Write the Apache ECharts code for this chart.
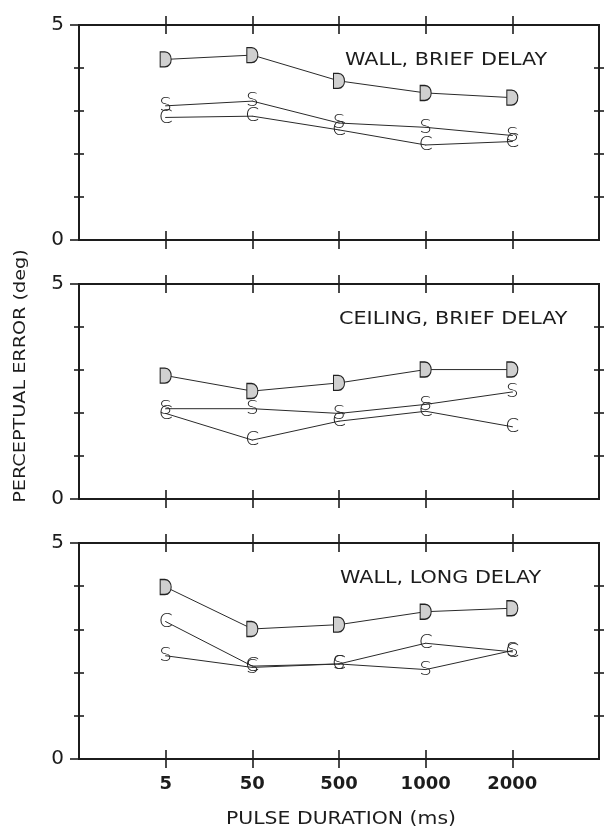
<!DOCTYPE html>
<html>
<head>
<meta charset="utf-8">
<script src="https://cdn.jsdelivr.net/npm/echarts@6/dist/echarts.min.js"></script>
<style>
html,body{margin:0;padding:0;background:#fff;}
#c{width:604px;height:830px;}
</style>
</head>
<body>
<div id="c"></div>
<script>
// ---- data ----
const categories = ['5', '50', '500', '1000', '2000'];
const yTickLabels = [0, 5];
const panelTitles = ['WALL, BRIEF DELAY', 'CEILING, BRIEF DELAY', 'WALL, LONG DELAY'];
const xTitle = 'PULSE DURATION (ms)';
const yTitle = 'PERCEPTUAL ERROR (deg)';

const wallBriefD = [4.20, 4.30, 3.70, 3.42, 3.31];
const wallBriefS = [3.12, 3.23, 2.72, 2.62, 2.43];
const wallBriefC = [2.85, 2.88, 2.56, 2.21, 2.29];

const ceilBriefD = [2.87, 2.51, 2.70, 3.01, 3.01];
const ceilBriefS = [2.10, 2.10, 1.99, 2.20, 2.49];
const ceilBriefC = [1.99, 1.37, 1.81, 2.04, 1.68];

const wallLongD = [3.98, 3.01, 3.11, 3.41, 3.49];
const wallLongC = [3.18, 2.15, 2.20, 2.68, 2.48];
const wallLongS = [2.39, 2.12, 2.20, 2.07, 2.51];

// ---- chart ----
const chart = echarts.init(document.getElementById('c'), null, {renderer: 'canvas'});
const INK = '#1c1c1c';
const dPath = 'path://M0,0 L4,0 C11,0 11,14 4,14 L0,14 Z';
const catIdx = categories.map((c, i) => i);

const gridDefs = [
  {left: 79, right: 5, top: 25, height: 215},
  {left: 79, right: 5, top: 284, height: 215},
  {left: 79, right: 5, top: 543, height: 216}
];
const grids = gridDefs.map(g => Object.assign({
  show: true, borderColor: INK, borderWidth: 2, backgroundColor: 'transparent', containLabel: false
}, g));

const xAxes = [], yAxes = [];
gridDefs.forEach((g, gi) => {
  const base = {gridIndex: gi, type: 'value', min: -1, max: 5, interval: 1,
    axisLine: {show: false, onZero: false}, splitLine: {show: false}};
  [['bottom', false], ['bottom', true], ['top', false], ['top', true]].forEach(([pos, inside], k) => {
    const ax = Object.assign({}, base, {
      position: pos, offset: 0,
      axisTick: {show: true, inside: inside, length: 9, customValues: catIdx,
        lineStyle: {color: INK, width: 1.6}},
      axisLabel: {show: false}
    });
    if (gi === 2 && k === 0) {
      ax.axisLabel = {show: true, customValues: catIdx, margin: 16,
        formatter: v => categories[v] !== undefined ? categories[v] : '',
        fontFamily: 'DejaVu Sans', fontWeight: 'bold', fontSize: 18, color: INK};
    }
    xAxes.push(ax);
  });
  const yb = {gridIndex: gi, type: 'value', min: 0, max: 5, interval: 1,
    axisLine: {show: false, onZero: false}, splitLine: {show: false}};
  yAxes.push(Object.assign({}, yb, {position: 'left', offset: 0,
    axisTick: {show: true, inside: false, length: 9, customValues: yTickLabels, lineStyle: {color: INK, width: 1.6}},
    axisLabel: {show: true, customValues: yTickLabels, margin: 15, fontFamily: 'DejaVu Sans', fontSize: 20, color: INK}}));
  [['left', false], ['left', true], ['right', false], ['right', true]].forEach(([pos, inside]) => {
    yAxes.push(Object.assign({}, yb, {position: pos, offset: 0,
      axisTick: {show: true, inside: inside, length: 5, customValues: [1, 2, 3, 4], lineStyle: {color: INK, width: 1.6}},
      axisLabel: {show: false}}));
  });
});

function mk(gi, data, letter) {
  const isD = letter === 'D';
  return {
    type: 'line', xAxisIndex: gi * 4, yAxisIndex: gi * 5, silent: true,
    data: data.map((v, i) => [catIdx[i], v]),
    symbol: isD ? dPath : 'circle',
    symbolSize: isD ? [11, 15] : 1,
    showSymbol: true,
    lineStyle: {color: '#2a2a2a', width: 1},
    itemStyle: isD ? {color: '#d0d0d0', borderColor: '#222', borderWidth: 1.2} : {color: '#2a2a2a'},
    label: isD ? {show: false} : {show: true, position: 'inside', formatter: letter,
      color: '#1f1f1f', fontSize: 20, fontFamily: 'DejaVu Sans', fontWeight: 200},
    emphasis: {disabled: true},
    animation: false
  };
}

const series = [
  mk(0, wallBriefC, 'C'), mk(0, wallBriefS, 'S'), mk(0, wallBriefD, 'D'),
  mk(1, ceilBriefC, 'C'), mk(1, ceilBriefS, 'S'), mk(1, ceilBriefD, 'D'),
  mk(2, wallLongC, 'C'), mk(2, wallLongS, 'S'), mk(2, wallLongD, 'D')
];

const titleX = [345, 339, 340];
const titleY = [60, 319, 578];
const graphic = panelTitles.map((t, i) => ({
  type: 'text', x: titleX[i], y: titleY[i], scaleX: 1.15, silent: true,
  style: {text: t, fill: INK, font: '18px "DejaVu Sans"', textAlign: 'left', textVerticalAlign: 'middle'}
}));
graphic.push({
  type: 'text', x: 341, y: 820, scaleX: 1.2, silent: true,
  style: {text: xTitle, fill: INK, font: '17px "DejaVu Sans"', textAlign: 'center', textVerticalAlign: 'middle'}
});
graphic.push({
  type: 'text', x: 21, y: 376, rotation: Math.PI / 2, scaleX: 1.2, silent: true,
  style: {text: yTitle, fill: INK, font: '16px "DejaVu Sans"', textAlign: 'center', textVerticalAlign: 'middle'}
});

chart.setOption({
  animation: false,
  backgroundColor: '#ffffff',
  grid: grids,
  xAxis: xAxes,
  yAxis: yAxes,
  series: series,
  graphic: graphic
});
</script>
</body>
</html>
